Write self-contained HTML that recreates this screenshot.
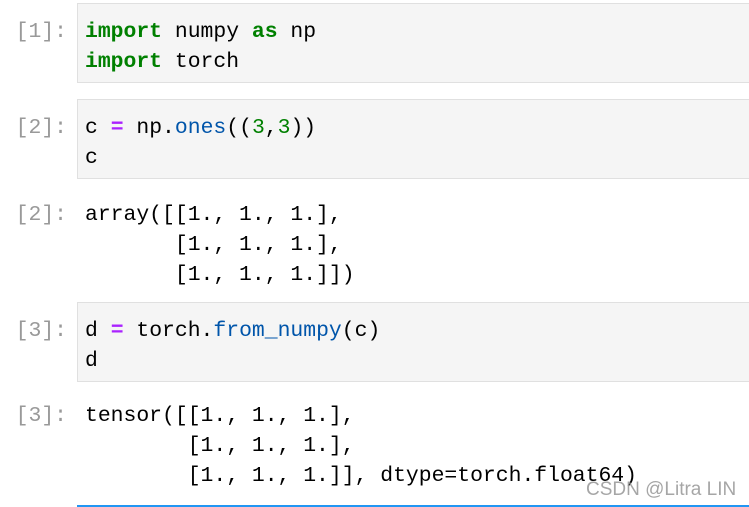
<!DOCTYPE html>
<html><head><meta charset="utf-8"><style>
html,body{margin:0;padding:0;background:#fff;width:749px;height:507px;overflow:hidden;position:relative}
.mono{font-family:"Liberation Mono","DejaVu Sans Mono",monospace;font-size:21.4px;line-height:30px;white-space:pre;color:#000}
.p{position:absolute;left:0;width:67px;text-align:right;color:#999}
.cell{position:absolute;left:77px;width:680px;height:78px;background:#f5f5f5;border:1px solid #e0e0e0;box-sizing:content-box}
.cell .mono{position:absolute;left:7px;top:13px}
.out{position:absolute;left:85px}
.k{color:#008000;font-weight:bold}
.o{color:#aa22ff;font-weight:bold}
.f{color:#0055aa}
.n{color:#008000}
</style></head><body>
<div class="mono p" style="top:17px">[1]:</div>
<div class="cell" style="top:3px"><div class="mono"><span class="k">import</span> numpy <span class="k">as</span> np
<span class="k">import</span> torch</div></div>

<div class="mono p" style="top:113px">[2]:</div>
<div class="cell" style="top:99px"><div class="mono">c <span class="o">=</span> np.<span class="f">ones</span>((<span class="n">3</span>,<span class="n">3</span>))
c</div></div>

<div class="mono p" style="top:200px">[2]:</div>
<div class="mono out" style="top:200px">array([[1., 1., 1.],
       [1., 1., 1.],
       [1., 1., 1.]])</div>

<div class="mono p" style="top:316px">[3]:</div>
<div class="cell" style="top:302px"><div class="mono">d <span class="o">=</span> torch.<span class="f">from_numpy</span>(c)
d</div></div>

<div class="mono p" style="top:401px">[3]:</div>
<div class="mono out" style="top:401px">tensor([[1., 1., 1.],
        [1., 1., 1.],
        [1., 1., 1.]], dtype=torch.float64)</div>

<div style="position:absolute;left:586px;top:479px;font-family:'Liberation Sans',sans-serif;font-size:19px;color:rgba(150,150,150,0.85)">CSDN @Litra LIN</div>
<div style="position:absolute;left:77px;top:505px;width:672px;height:2px;background:#2196f3"></div>
</body></html>
